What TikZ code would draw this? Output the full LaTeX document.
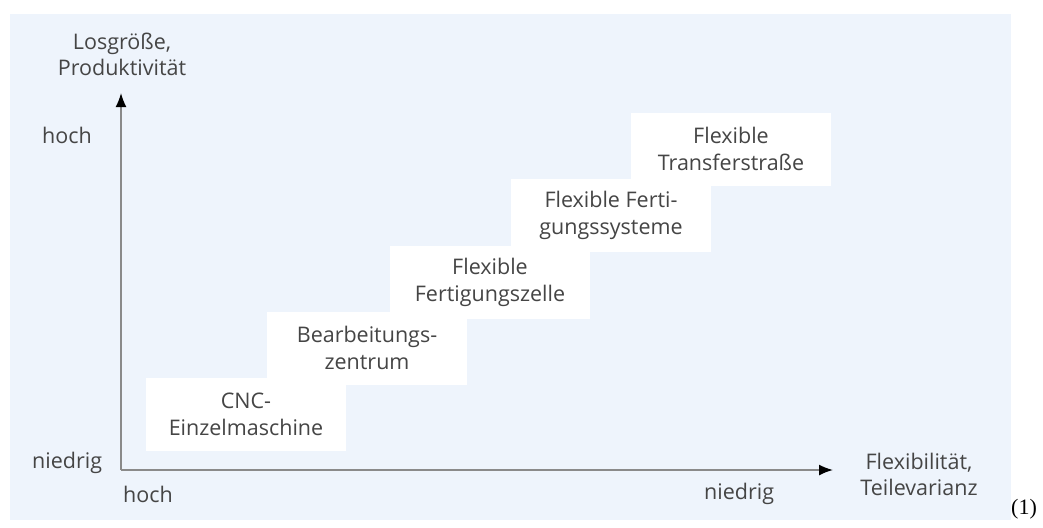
\documentclass[tikz,border=0pt]{standalone}
\usepackage{fontspec}
\setmainfont{Open Sans}
\newfontfamily\serifnum{Liberation Serif}
\usetikzlibrary{arrows.meta}
\definecolor{bgblue}{HTML}{EEF4FC}
\definecolor{txtgray}{HTML}{454545}
\definecolor{axisgray}{HTML}{8A8A8A}
\tikzset{
  stepbox/.style={fill=white, draw=none, minimum width=200pt, minimum height=73pt,
    align=center, text=txtgray, font=\fontsize{21.5}{27}\selectfont, inner sep=0pt},
  lbl/.style={text=txtgray, font=\fontsize{21.5}{26}\selectfont, align=center, inner sep=0pt},
  axis/.style={draw=axisgray, line width=1.6pt, -{Latex[length=14pt,width=11pt,black]}}
}
\begin{document}
\begin{tikzpicture}[x=1pt,y=-1pt]
\useasboundingbox (0,0) rectangle (1043,527);
\fill[bgblue] (10,14) rectangle (1011,520);
% boxes
\node[stepbox] (b5) at (731,149) {Flexible\\Transferstraße};
\node[stepbox] (b4) at (611,215) {Flexible Ferti-\\gungssysteme};
\node[stepbox] (b3) at (490,282) {Flexible\\Fertigungszelle};
\node[stepbox] (b2) at (367,348) {Bearbeitungs-\\zentrum};
\node[stepbox] (b1) at (246,414) {CNC-\\Einzelmaschine};
% axes
\coordinate (o) at (121,470);
\coordinate (ytip) at (121,93);
\coordinate (xtip) at (833,470);
\draw[axis] (o) -- (ytip);
\draw[axis] (o) -- (xtip);
% labels
\node[lbl] (ylab) at (122,54) {Losgröße,\\Produktivität};
\node[lbl] (xlab) at (919,474) {Flexibilität,\\Teilevarianz};
\node[lbl, anchor=west] (yhi) at (42,135) {hoch};
\node[lbl, anchor=west] (ylo) at (32,463) {niedrig};
\node[lbl, anchor=west] (xhi) at (123,494) {hoch};
\node[lbl, anchor=west] (xlo) at (704,494) {niedrig};
\node[inner sep=0pt, font=\serifnum\fontsize{22}{26}\selectfont] (num) at (1024,509) {(1)};
\end{tikzpicture}
\end{document}
